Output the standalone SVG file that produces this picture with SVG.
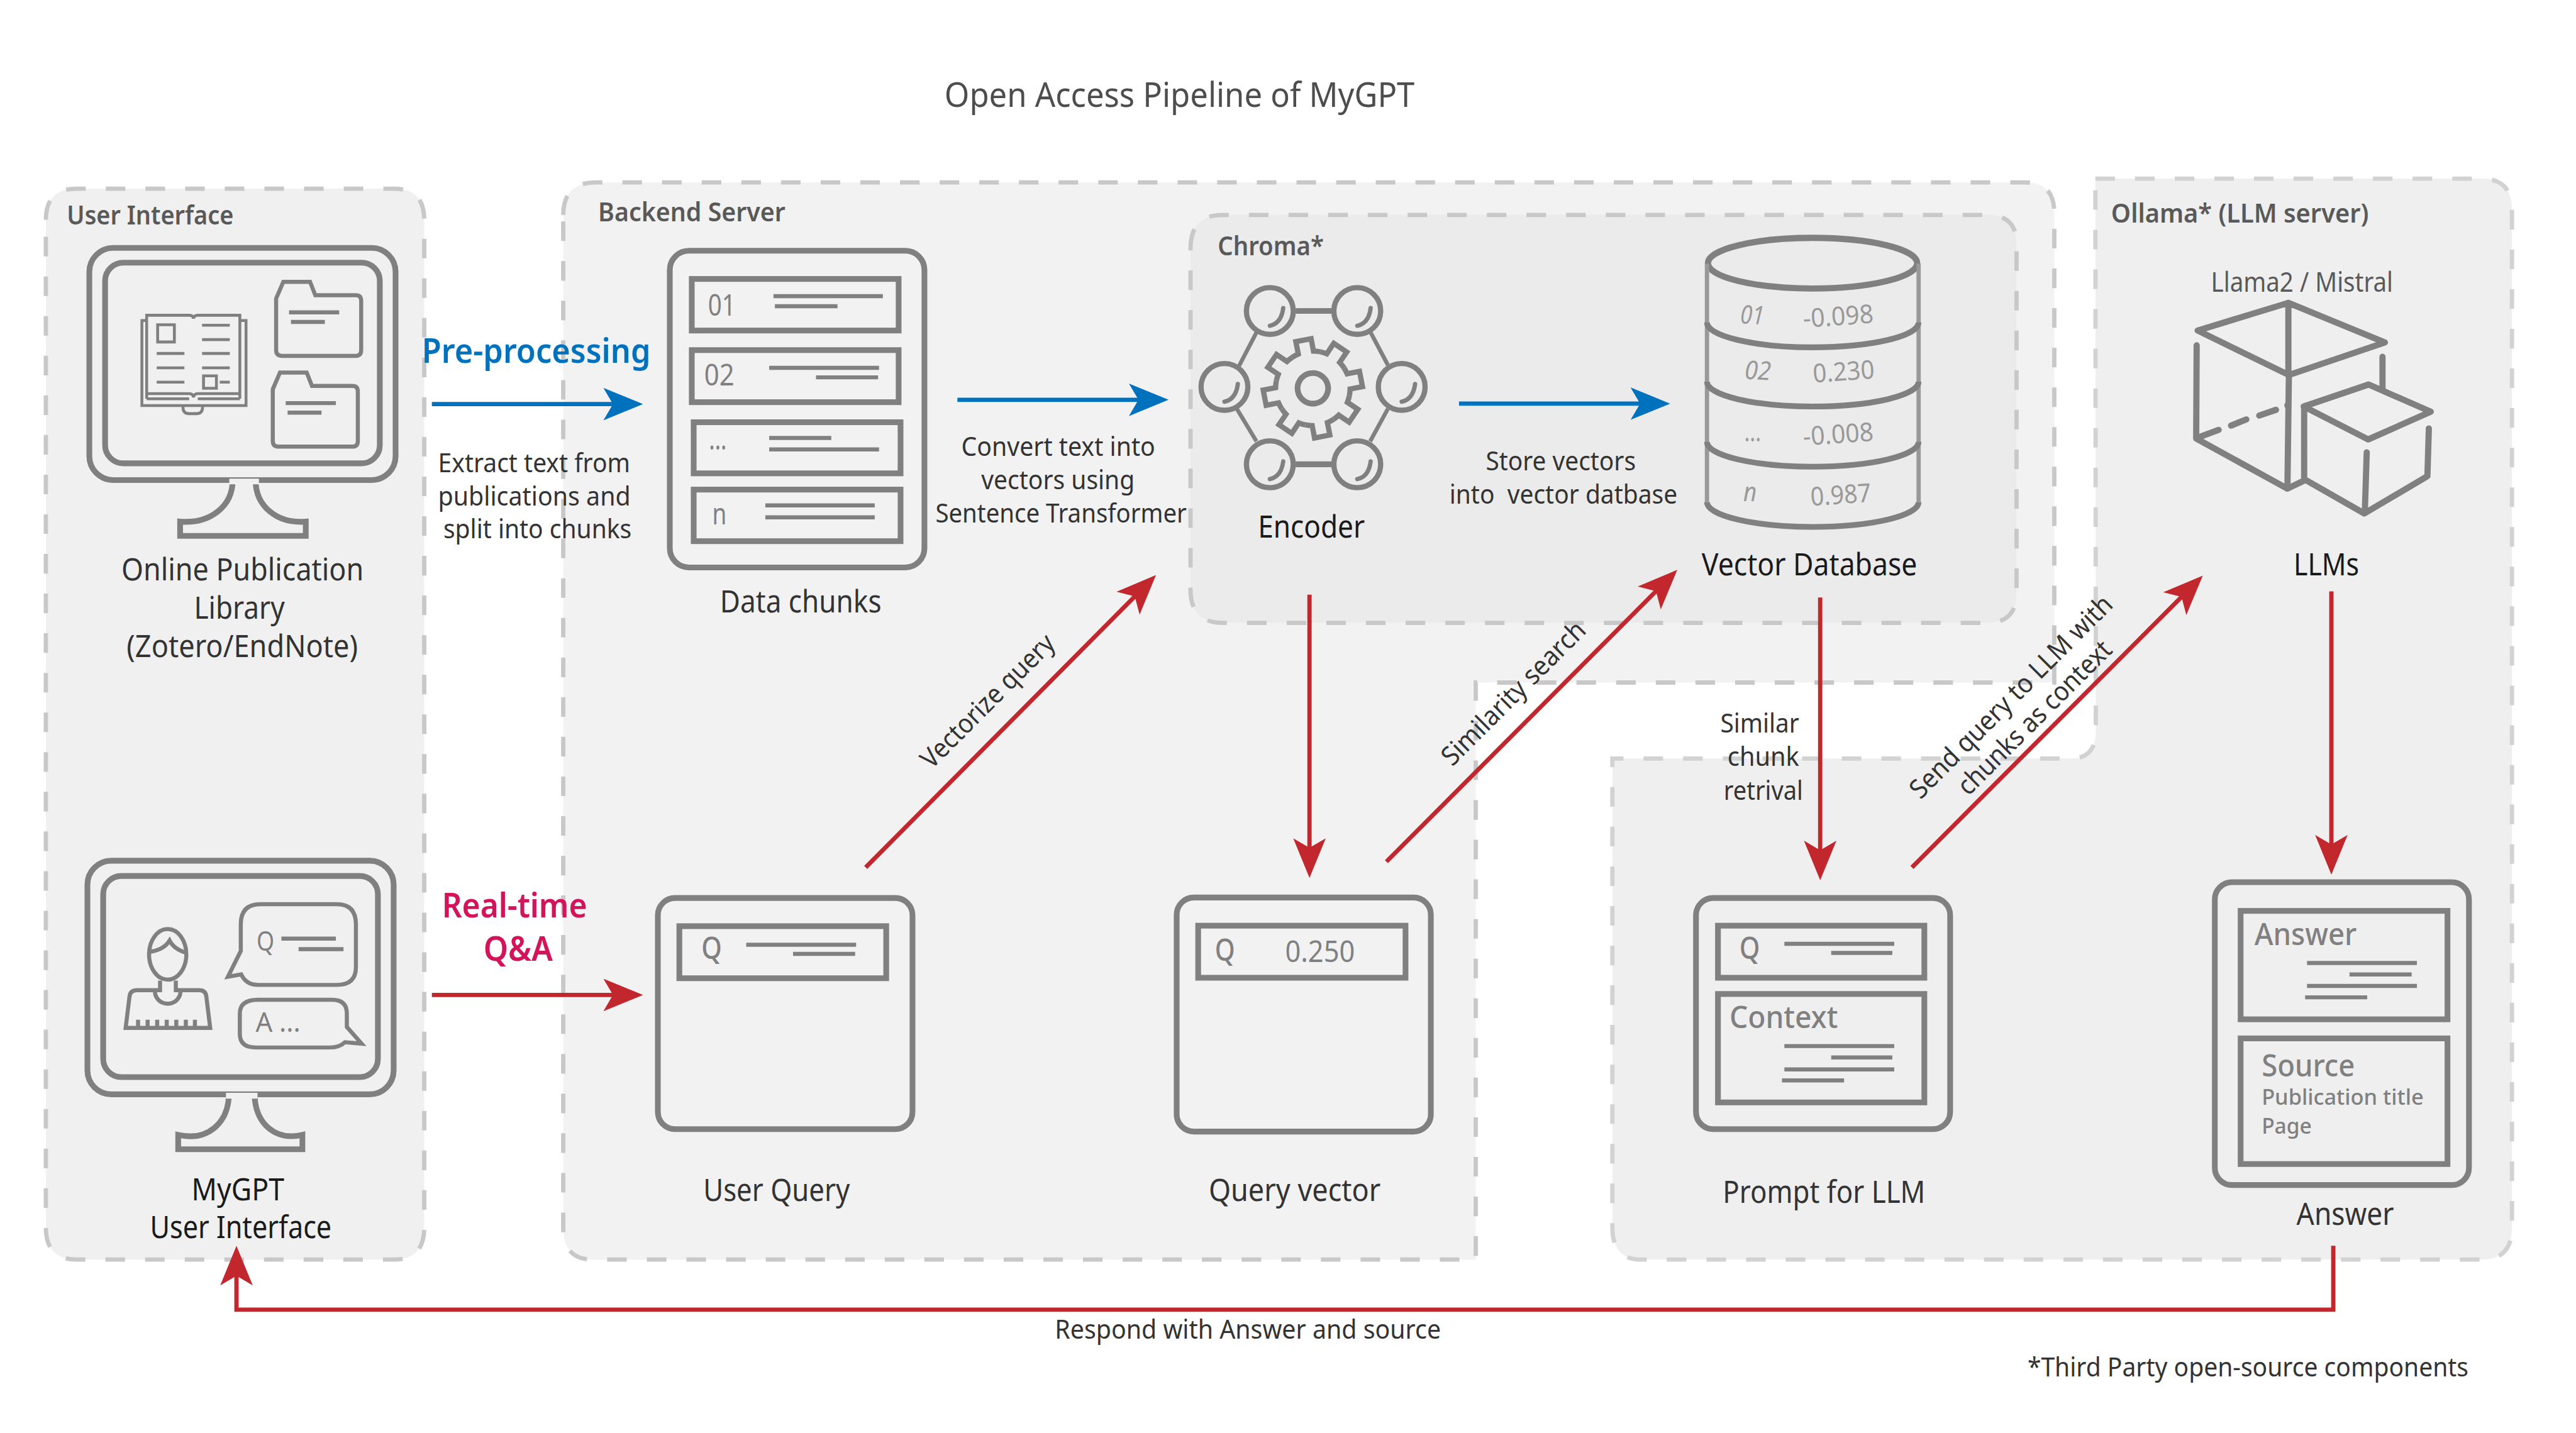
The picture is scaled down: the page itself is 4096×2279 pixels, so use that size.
<svg xmlns="http://www.w3.org/2000/svg" width="4096" height="2279" viewBox="0 0 4096 2279">
<style>
text{font-family:"Noto Sans","Open Sans","Liberation Sans",sans-serif;fill:#333;}
.l{font-size:64px;}
.k{font-size:64px;fill:#1a1a1a;}
.m{font-size:56px;}
.h{font-size:54px;font-weight:600;fill:#595959;}
.g{font-size:62px;fill:#808080;}
.gb{font-size:64px;fill:#808080;font-weight:500;}
.d{font-size:54px;fill:#999;}
.s{font-size:45px;fill:#808080;font-weight:500;}
.pb{fill:#f1f1f1;stroke:#c8c8c8;stroke-width:9;stroke-dasharray:41 42;}
.ic{fill:none;stroke:#808080;stroke-width:12;}
.th{fill:none;stroke:#808080;stroke-width:8.5;}
.c{fill:none;stroke:#808080;stroke-width:13;stroke-linecap:round;stroke-linejoin:round;}
.r{fill:none;stroke:#c1272d;stroke-width:9;marker-end:url(#ar);}
.b{fill:none;stroke:#0071bc;stroke-width:9;marker-end:url(#ab);}
</style>
<defs>
<marker id="ar" markerUnits="userSpaceOnUse" markerWidth="90" markerHeight="80" refX="28" refY="34" orient="auto"><path d="M0 0L83 34L0 68L20 34Z" fill="#c1272d"/></marker>
<marker id="ab" markerUnits="userSpaceOnUse" markerWidth="90" markerHeight="80" refX="28" refY="34" orient="auto"><path d="M0 0L83 34L0 68L20 34Z" fill="#0071bc"/></marker>
<path id="tooth" d="M-29.85 -72.06A78 78 0 0 1 -16.2 -76.3L-16.3 -102.7L16.3 -102.7L16.2 -76.3A78 78 0 0 1 29.85 -72.06" fill="none" stroke="#808080" stroke-width="11"/>
<g id="node-circle"><circle r="49" fill="none" stroke="#808080" stroke-width="11"/><path d="M28 -6Q24 26 0 31" fill="none" stroke="#808080" stroke-width="9" stroke-linecap="round"/></g>
</defs>
<g transform="scale(0.75964)">
<rect width="5392" height="3000" fill="#fff"/>
<g id="title"><text x="1977" y="224" font-size="72" style="fill:#4d4d4d" textLength="984" lengthAdjust="spacingAndGlyphs">Open Access Pipeline of MyGPT</text></g>

<g id="panels">
<path id="panel-ui" class="pb" style="fill:#f0f0f0" d="M96 460Q96 395 160 395H825Q888 395 888 460V2570Q888 2637 825 2637H160Q96 2637 96 2570Z"/>
<path id="panel-backend" class="pb" style="fill:#f2f2f2" d="M1179 450Q1179 382 1247 382H4240Q4300 382 4300 445V1429H3089V2637H1240Q1179 2637 1179 2570Z"/>
<path id="panel-ollama" class="pb" style="fill:#efefef;stroke:#d2d2d2" d="M4386 374H5195Q5258 374 5258 440V2570Q5258 2637 5195 2637H3435Q3375 2637 3375 2570V1588H4335Q4387 1588 4387 1530Z"/>
<path id="panel-chroma" class="pb" style="fill:#ebebeb" d="M2492 520Q2492 450 2560 450H4160Q4221 450 4221 510V1240Q4221 1304 4160 1304H2560Q2492 1304 2492 1235Z"/>
<text class="h" x="140" y="470" textLength="349" lengthAdjust="spacingAndGlyphs">User Interface</text>
<text class="h" x="1252" y="464" textLength="392" lengthAdjust="spacingAndGlyphs">Backend Server</text>
<text class="h" x="2549" y="535" textLength="222" lengthAdjust="spacingAndGlyphs">Chroma*</text>
<text class="h" x="4419" y="466" textLength="539" lengthAdjust="spacingAndGlyphs">Ollama* (LLM server)</text>
</g>

<g id="node-library">
<rect class="ic" x="187" y="519" width="641" height="486" rx="50"/>
<rect class="ic" x="220" y="550" width="575" height="420" rx="38"/>
<path class="ic" d="M487 1005C487 1060 440 1097 377 1092V1122H640V1092C580 1097 535 1060 535 1005" style="fill:#f0f0f0"/>
<path class="ic" d="M480 1008H542" style="stroke:#f0f0f0"/>
<path fill="none" stroke="#808080" stroke-width="6" d="M307 671H297V849H515V671H502M307 835V660H396Q404 660 405 667Q406 660 414 660H502V835M307 824H396Q404 824 405 832Q406 824 414 824H502M383 846V853Q383 866 396 866H411Q424 866 424 853V846M307 835H396M414 835H502"/>
<path fill="none" stroke="#808080" stroke-width="6" d="M330 680H365V716H330ZM426 787H453V813H426Z"/>
<path class="th" style="stroke-width:6" d="M328 740H386M328 770H386M328 800H386M423 681H481M423 711H481M423 740H481M423 770H481M460 800H481"/>
<path class="th" d="M578 625L593 590H649L660 618H745Q756 618 756 630V733Q756 745 745 745H590Q578 745 578 733ZM605 654H710M609 674H680"/>
<path class="th" d="M571 815L586 780H642L653 808H738Q749 808 749 820V923Q749 935 738 935H583Q571 935 571 923ZM598 844H703M602 864H673"/>
<text class="l" x="254" y="1215" textLength="507" lengthAdjust="spacingAndGlyphs">Online Publication</text>
<text class="l" x="406" y="1296" textLength="190" lengthAdjust="spacingAndGlyphs">Library</text>
<text class="l" x="265" y="1376" textLength="484" lengthAdjust="spacingAndGlyphs">(Zotero/EndNote)</text>
</g>

<g id="node-chunks">
<rect class="ic" x="1402" y="525" width="533" height="663" rx="40"/>
<rect class="ic" x="1448" y="584" width="433" height="108"/>
<rect class="ic" x="1448" y="733" width="433" height="109"/>
<rect class="ic" x="1452" y="884" width="433" height="107"/>
<rect class="ic" x="1452" y="1025" width="433" height="108"/>
<path class="th" d="M1619 620H1848M1622 641H1753M1610 770H1840M1708 790H1838M1610 917H1740M1610 941H1840M1602 1058H1831M1602 1083H1831"/>
<text class="g" x="1482" y="661" textLength="58" lengthAdjust="spacingAndGlyphs">01</text>
<text class="g" x="1474" y="807" textLength="63" lengthAdjust="spacingAndGlyphs">02</text>
<text class="g" x="1484" y="941" textLength="37" lengthAdjust="spacingAndGlyphs">...</text>
<text class="g" x="1491" y="1098" textLength="30" lengthAdjust="spacingAndGlyphs">n</text>
<text class="l" x="1507" y="1282" textLength="338" lengthAdjust="spacingAndGlyphs">Data chunks</text>
</g>

<g id="node-encoder">
<path fill="none" stroke="#808080" stroke-width="12" d="M2712 651H2787M2712 972H2787"/>
<path class="th" d="M2630 696L2593 767M2869 696L2905 764M2589 856L2630 924M2905 856L2868 924"/>
<use href="#node-circle" x="2658" y="651"/><use href="#node-circle" x="2841" y="651"/>
<use href="#node-circle" x="2563" y="810"/><use href="#node-circle" x="2934" y="810"/>
<use href="#node-circle" x="2658" y="972"/><use href="#node-circle" x="2841" y="972"/>
<g transform="translate(2748 813) rotate(-11)">
<use href="#tooth"/><use href="#tooth" transform="rotate(45)"/><use href="#tooth" transform="rotate(90)"/><use href="#tooth" transform="rotate(135)"/><use href="#tooth" transform="rotate(180)"/><use href="#tooth" transform="rotate(225)"/><use href="#tooth" transform="rotate(270)"/><use href="#tooth" transform="rotate(315)"/>
<circle r="32" fill="none" stroke="#808080" stroke-width="12"/>
</g>
<text class="k" x="2633" y="1125" textLength="224" lengthAdjust="spacingAndGlyphs">Encoder</text>
</g>

<g id="node-vectordb">
<ellipse cx="3794" cy="551" rx="219" ry="53" fill="none" stroke="#808080" stroke-width="13"/>
<path fill="none" stroke="#999" stroke-width="9" d="M3573 552V1051M4016 552V1051"/>
<path fill="none" stroke="#808080" stroke-width="12" d="M3573 675A221 52 0 0 0 4016 675M3573 799A221 52 0 0 0 4016 799M3573 925A221 52 0 0 0 4016 925M3573 1051A221 52 0 0 0 4016 1051"/>
<text class="d" x="3642" y="677" font-style="italic" textLength="50" lengthAdjust="spacingAndGlyphs" transform="rotate(3 3642 677)">01</text>
<text class="d" x="3775" y="686" textLength="148" lengthAdjust="spacingAndGlyphs" transform="rotate(-4 3775 686)">-0.098</text>
<text class="d" x="3651" y="793" font-style="italic" textLength="55" lengthAdjust="spacingAndGlyphs" transform="rotate(3 3651 793)">02</text>
<text class="d" x="3796" y="801" textLength="129" lengthAdjust="spacingAndGlyphs" transform="rotate(-4 3796 801)">0.230</text>
<text class="d" x="3651" y="924" textLength="35" lengthAdjust="spacingAndGlyphs">...</text>
<text class="d" x="3775" y="933" textLength="148" lengthAdjust="spacingAndGlyphs" transform="rotate(-4 3775 933)">-0.008</text>
<text class="d" x="3649" y="1049" font-style="italic" textLength="28" lengthAdjust="spacingAndGlyphs">n</text>
<text class="d" x="3791" y="1059" textLength="127" lengthAdjust="spacingAndGlyphs" transform="rotate(-4 3791 1059)">0.987</text>
<text class="k" x="3562" y="1205" textLength="451" lengthAdjust="spacingAndGlyphs">Vector Database</text>
</g>

<g id="node-llms">
<text x="4628" y="611" font-size="58" style="fill:#595959" textLength="381" lengthAdjust="spacingAndGlyphs">Llama2 / Mistral</text>
<path class="c" d="M4600 692L4790 634L4992 717L4791 785ZM4790 634V785M4791 788L4788 1023M4598 723L4597 918L4788 1023L4823 1006M4606 914L4644 900M4670 891L4702 878M4729 870L4764 858M4788 848V849M4987 747V813"/>
<path class="c" d="M4822 851L4958 805L5088 862L4957 920ZM4823 851V1003L4949 1075L5081 997L5084 897M4954 947L4950 1072"/>
<text class="k" x="4801" y="1204" textLength="137" lengthAdjust="spacingAndGlyphs">LLMs</text>
</g>

<g id="node-mygpt">
<rect class="ic" x="183" y="1802" width="641" height="489" rx="50"/>
<rect class="ic" x="216" y="1834" width="575" height="421" rx="38"/>
<path class="ic" d="M479 2291C479 2350 435 2390 373 2376V2406H633V2376C575 2390 533 2350 533 2291" style="fill:#f0f0f0"/>
<path class="ic" d="M473 2294H539" style="stroke:#f0f0f0"/>
<g fill="none" stroke="#808080" stroke-width="8.5">
<ellipse cx="351" cy="1998" rx="39" ry="53"/>
<path d="M312 1993C330 1990 345 1985 355 1969C363 1985 380 1992 391 1995"/>
<path d="M335 2053V2073H287Q272 2073 271 2087L263 2152H440L432 2087Q431 2073 417 2073H368V2053M324 2075C326 2110 376 2110 378 2075"/>
<path d="M289 2152V2135M309 2152V2135M329 2152V2135M349 2152V2135M369 2152V2135M389 2152V2135M408 2152V2135"/>
<path d="M504 1991V1935Q504 1893 545 1893H705Q745 1893 745 1935V2025Q745 2062 705 2062H540Q515 2062 505 2040L477 2045Z"/>
<path d="M540 2093H695Q726 2093 726 2122V2150L757 2185L722 2182Q710 2193 690 2193H535Q502 2193 502 2165V2122Q502 2093 540 2093Z"/>
</g>
<path class="th" d="M589 1965H703M625 1987H719"/>
<text class="g" x="537" y="1990" style="font-size:58px" textLength="37" lengthAdjust="spacingAndGlyphs">Q</text>
<text class="g" x="535" y="2160" style="font-size:58px" textLength="94" lengthAdjust="spacingAndGlyphs">A ...</text>
<text class="k" x="401" y="2513" textLength="194" lengthAdjust="spacingAndGlyphs">MyGPT</text>
<text class="k" x="314" y="2592" textLength="380" lengthAdjust="spacingAndGlyphs">User Interface</text>
</g>

<g id="node-userquery">
<rect class="ic" x="1377" y="1880" width="533" height="484" rx="36"/>
<rect class="ic" x="1422" y="1939" width="433" height="109"/>
<path class="th" d="M1562 1978H1792M1660 1997H1790"/>
<text class="gb" x="1468" y="2008" textLength="43" lengthAdjust="spacingAndGlyphs">Q</text>
<text class="l" x="1472" y="2515" textLength="307" lengthAdjust="spacingAndGlyphs">User Query</text>
</g>

<g id="node-queryvector">
<rect class="ic" x="2463" y="1879" width="532" height="490" rx="36"/>
<rect class="ic" x="2508" y="1938" width="434" height="109"/>
<text class="gb" x="2543" y="2011" textLength="42" lengthAdjust="spacingAndGlyphs">Q</text>
<text class="g" x="2690" y="2014" textLength="146" lengthAdjust="spacingAndGlyphs">0.250</text>
<text class="l" x="2530" y="2514" textLength="360" lengthAdjust="spacingAndGlyphs">Query vector</text>
</g>

<g id="node-prompt">
<rect class="ic" x="3550" y="1880" width="532" height="484" rx="36"/>
<rect class="ic" x="3596" y="1938" width="432" height="109"/>
<rect class="ic" x="3596" y="2081" width="432" height="227"/>
<path class="th" d="M3735 1976H3965M3833 1995H3961M3735 2190H3965M3833 2214H3961M3735 2239H3965M3730 2262H3860"/>
<text class="gb" x="3641" y="2007" textLength="43" lengthAdjust="spacingAndGlyphs">Q</text>
<text class="gb" x="3620" y="2152" textLength="227" lengthAdjust="spacingAndGlyphs">Context</text>
<text class="l" x="3606" y="2518" textLength="424" lengthAdjust="spacingAndGlyphs">Prompt for LLM</text>
</g>

<g id="node-answer">
<rect class="ic" x="4636" y="1847" width="532" height="634" rx="36"/>
<rect class="ic" x="4690" y="1907" width="433" height="227"/>
<rect class="ic" x="4690" y="2174" width="433" height="263"/>
<path class="th" d="M4829 2016H5059M4918 2040H5048M4829 2064H5059M4825 2088H4955"/>
<text class="gb" x="4719" y="1979" textLength="214" lengthAdjust="spacingAndGlyphs">Answer</text>
<text class="gb" x="4734" y="2254" textLength="195" lengthAdjust="spacingAndGlyphs">Source</text>
<text class="s" x="4734" y="2313" textLength="339" lengthAdjust="spacingAndGlyphs">Publication title</text>
<text class="s" x="4734" y="2373" textLength="105" lengthAdjust="spacingAndGlyphs">Page</text>
<text class="l" x="4807" y="2564" textLength="204" lengthAdjust="spacingAndGlyphs">Answer</text>
</g>

<g id="connectors">
<path class="b" d="M904 846H1291"/>
<path class="b" d="M2004 837H2391"/>
<path class="b" d="M3054 845H3441"/>
<path class="r" d="M904 2083H1291"/>
<path class="r" d="M1812 1816L2381 1243"/>
<path class="r" d="M2741 1245V1783"/>
<path class="r" d="M2902 1804L3472 1232"/>
<path class="r" d="M3810 1251V1788"/>
<path class="r" d="M4002 1816L4572 1244"/>
<path class="r" d="M4880 1238V1776"/>
<path class="r" style="stroke-miterlimit:10" d="M4884 2608V2742H495V2663"/>
</g>

<g id="connector-labels">
<text x="883" y="760" font-size="71" font-weight="600" style="fill:#0071bc" textLength="479" lengthAdjust="spacingAndGlyphs">Pre-processing</text>
<text class="m" x="917" y="988" textLength="402" lengthAdjust="spacingAndGlyphs">Extract text from</text>
<text class="m" x="917" y="1058" textLength="403" lengthAdjust="spacingAndGlyphs">publications and</text>
<text class="m" x="928" y="1127" textLength="394" lengthAdjust="spacingAndGlyphs">split into chunks</text>
<text class="m" x="2012" y="954" textLength="406" lengthAdjust="spacingAndGlyphs">Convert text into</text>
<text class="m" x="2054" y="1024" textLength="321" lengthAdjust="spacingAndGlyphs">vectors using</text>
<text class="m" x="1958" y="1094" textLength="526" lengthAdjust="spacingAndGlyphs">Sentence Transformer</text>
<text class="m" x="3110" y="985" textLength="314" lengthAdjust="spacingAndGlyphs">Store vectors</text>
<text class="m" x="3034" y="1054" textLength="477" lengthAdjust="spacingAndGlyphs" xml:space="preserve">into  vector datbase</text>
<text x="925" y="1921" font-size="72" font-weight="600" style="fill:#d4145a" textLength="304" lengthAdjust="spacingAndGlyphs">Real-time</text>
<text x="1012" y="2011" font-size="72" font-weight="600" style="fill:#d4145a" textLength="145" lengthAdjust="spacingAndGlyphs">Q&amp;A</text>
<text class="m" x="1950" y="1612" textLength="370" lengthAdjust="spacingAndGlyphs" transform="rotate(-45 1950 1612)">Vectorize query</text>
<text class="m" x="3040" y="1606" textLength="400" lengthAdjust="spacingAndGlyphs" transform="rotate(-45 3040 1606)">Similarity search</text>
<text class="m" x="3601" y="1534" textLength="165" lengthAdjust="spacingAndGlyphs">Similar</text>
<text class="m" x="3616" y="1604" textLength="150" lengthAdjust="spacingAndGlyphs">chunk</text>
<text class="m" x="3608" y="1674" textLength="166" lengthAdjust="spacingAndGlyphs">retrival</text>
<text class="m" x="4020" y="1675" textLength="574" lengthAdjust="spacingAndGlyphs" transform="rotate(-45 4020 1675)">Send query to LLM with</text>
<text class="m" x="4120" y="1668" textLength="430" lengthAdjust="spacingAndGlyphs" transform="rotate(-45 4120 1668)">chunks as context</text>
<text class="m" x="2208" y="2803" textLength="808" lengthAdjust="spacingAndGlyphs">Respond with Answer and source</text>
</g>
<g id="footnote"><text class="m" x="4244" y="2881" textLength="923" lengthAdjust="spacingAndGlyphs">*Third Party open-source components</text></g>
</g>
</svg>
